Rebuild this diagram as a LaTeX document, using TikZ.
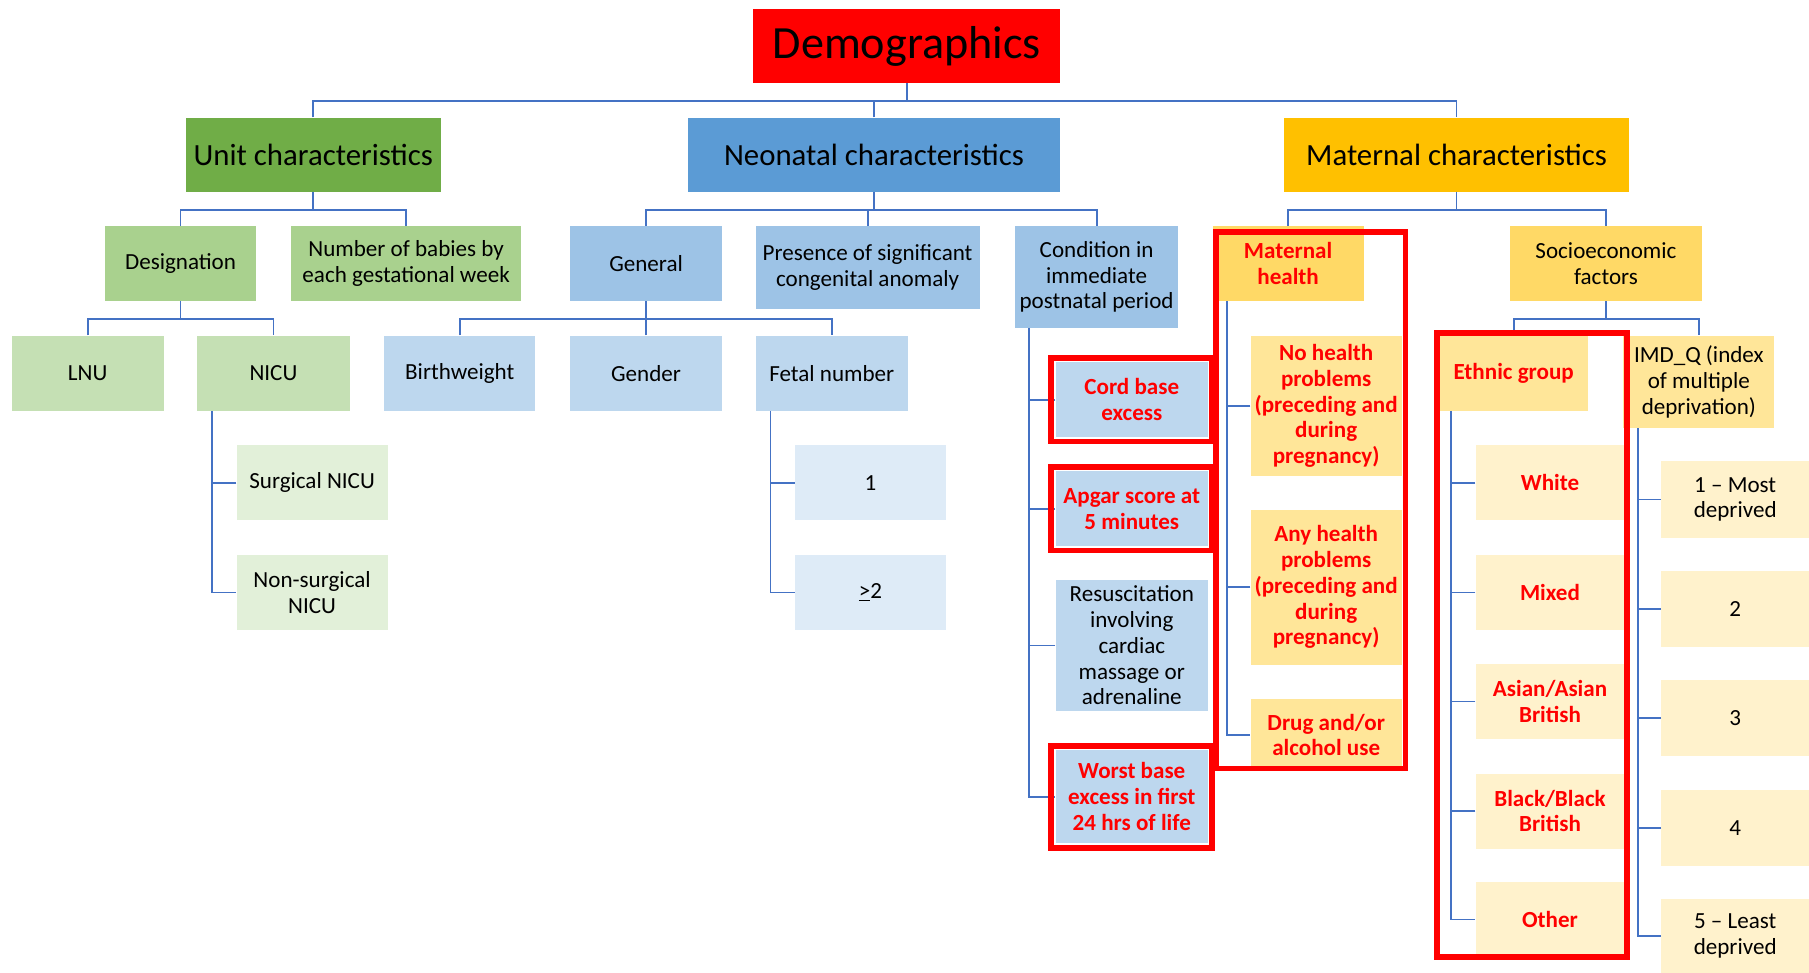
\documentclass[tikz,border=0pt]{standalone}
\usepackage{fontspec}
\setmainfont{Carlito}
\usetikzlibrary{calc,fit}

% palette
\definecolor{linkblue}{HTML}{4472C4}
\definecolor{titlered}{HTML}{FF0000}
\definecolor{unitgreen}{HTML}{70AD47}
\definecolor{neoblue}{HTML}{5B9BD5}
\definecolor{matgold}{HTML}{FFC000}
\definecolor{greenB}{HTML}{A9D18E}
\definecolor{blueB}{HTML}{9DC3E6}
\definecolor{goldB}{HTML}{FFD966}
\definecolor{greenC}{HTML}{C5E0B4}
\definecolor{blueC}{HTML}{BDD7EE}
\definecolor{goldC}{HTML}{FFE699}
\definecolor{greenD}{HTML}{E2F0D9}
\definecolor{blueD}{HTML}{DEEBF7}
\definecolor{goldD}{HTML}{FFF2CC}

\tikzset{
  box/.style={rectangle, inner sep=0pt, align=center, text=black,
              font=\fontsize{20}{22.3}\selectfont},
  sz/.style 2 args={minimum width=#1pt, minimum height=#2pt},
  head/.style={font=\fontsize{26.7}{32}\selectfont},
  hl/.style={text=red, font=\fontsize{20}{22.3}\selectfont\bfseries},
  wire/.style={draw=linkblue, line width=1.6pt},
  redframe/.style={draw=red, line width=5pt},
}

\begin{document}
\begin{tikzpicture}[x=1pt, y=-1pt]
\useasboundingbox (0,0) rectangle (1568,843);

% root
\node[box, sz={266}{64}, fill=titlered, font=\fontsize{40}{48}\selectfont] (title) at (786,40) {Demographics};

% main branches
\node[box, head, sz={221}{64}, fill=unitgreen] (unit) at (271.5,134) {Unit characteristics};
\node[box, head, sz={323}{64}, fill=neoblue]   (neo)  at (757.5,134) {Neonatal characteristics};
\node[box, head, sz={299}{64}, fill=matgold]   (mat)  at (1262.5,134) {Maternal characteristics};

% second level
\node[box, sz={131}{65}, fill=greenB] (desig)    at (156.5,228.5) {Designation};
\node[box, sz={200}{65}, fill=greenB] (nbabies)  at (352,228.5) {Number of babies by\\each gestational week};
\node[box, sz={132}{65}, fill=blueB]  (general)  at (560,228.5) {General};
\node[box, sz={194}{72}, fill=blueB]  (presence) at (752,232) {Presence of significant\\congenital anomaly};
\node[box, sz={141}{88}, fill=blueB]  (cond)     at (950.5,240) {Condition in\\immediate\\postnatal period};
\node[box, hl, sz={131}{65}, fill=goldB] (mhealth) at (1116.5,228.5) {Maternal\\health};
\node[box, sz={166}{65}, fill=goldB]  (socio)    at (1392,228.5) {Socioeconomic\\factors};

% third level
\node[box, sz={132}{65}, fill=greenC] (lnu)    at (76,323.5) {LNU};
\node[box, sz={132}{65}, fill=greenC] (nicu)   at (237,323.5) {NICU};
\node[box, sz={131}{65}, fill=blueC]  (bw)     at (398.5,323.5) {Birthweight};
\node[box, sz={132}{65}, fill=blueC]  (gender) at (560,323.5) {Gender};
\node[box, sz={132}{65}, fill=blueC]  (fetal)  at (721,323.5) {Fetal number};
\node[box, hl, sz={128}{65}, fill=goldC] (ethnic) at (1312,323.5) {Ethnic group};
\node[box, sz={131}{80}, fill=goldC]  (imd)    at (1472.5,331) {IMD\_Q (index\\of multiple\\deprivation)};

% unit designation
\node[box, sz={131}{65}, fill=greenD] (surg)  at (270.5,418.5) {Surgical NICU};
\node[box, sz={131}{65}, fill=greenD] (nsurg) at (270.5,513.5) {Non-surgical\\NICU};

% fetal number
\node[box, sz={131}{65}, fill=blueD] (one) at (754.5,418.5) {1};
\node[box, sz={131}{65}, fill=blueD] (two) at (754.5,513.5) {\underline{>}2};

% immediate postnatal period
\node[box, hl, sz={132}{65}, fill=blueC]  (cord)  at (981,346.5) {Cord base\\excess};
\node[box, hl, sz={132}{65}, fill=blueC]  (apgar) at (981,441) {Apgar score at\\5 minutes};
\node[box, sz={132}{113}, fill=blueC]     (resus) at (981,559.5) {Resuscitation\\involving\\cardiac\\massage or\\adrenaline};
\node[box, hl, sz={132}{81}, fill=blueC]  (worst) at (981,690.5) {Worst base\\excess in first\\24 hrs of life};

% maternal health
\node[box, hl, sz={131}{122}, fill=goldC] (nohp)  at (1149.5,352) {No health\\problems\\(preceding and\\during\\pregnancy)};
\node[box, hl, sz={131}{134}, fill=goldC] (anyhp) at (1149.5,509) {Any health\\problems\\(preceding and\\during\\pregnancy)};
\node[box, hl, sz={131}{62}, fill=goldC]  (drug)  at (1149.5,637) {Drug and/or\\alcohol use};

% ethnic groups
\node[box, hl, sz={129}{65}, fill=goldD] (white) at (1343.5,418.5) {White};
\node[box, hl, sz={129}{65}, fill=goldD] (mixed) at (1343.5,513.5) {Mixed};
\node[box, hl, sz={129}{65}, fill=goldD] (asian) at (1343.5,608) {Asian/Asian\\British};
\node[box, hl, sz={129}{65}, fill=goldD] (black) at (1343.5,703) {Black/Black\\British};
\node[box, hl, sz={129}{65}, fill=goldD] (other) at (1343.5,797) {Other};

% deprivation quintiles
\node[box, sz={128}{66}, fill=goldD] (imdA) at (1504,433) {1 – Most\\deprived};
\node[box, sz={128}{66}, fill=goldD] (imdB) at (1504,527.5) {2};
\node[box, sz={128}{66}, fill=goldD] (imdC) at (1504,622.5) {3};
\node[box, sz={128}{66}, fill=goldD] (imdD) at (1504,717.5) {4};
\node[box, sz={128}{64}, fill=goldD] (imdE) at (1504,811) {5 – Least\\deprived};

% tree buses
\draw[wire] (title.south) -- ++(0,15) coordinate (bus0);
\draw[wire] (unit.north) |- (bus0) -| (mat.north);
\draw[wire] (neo.north) -- (neo.north |- bus0);

\draw[wire] (unit.south) -- ++(0,16) coordinate (bus1);
\draw[wire] (desig.north) |- (bus1) -| (nbabies.north);

\draw[wire] (neo.south) -- ++(0,16) coordinate (bus2);
\draw[wire] (general.north) |- (bus2) -| (cond.north);
\draw[wire] (presence.north) -- (presence.north |- bus2);

\draw[wire] (mat.south) -- ++(0,16) coordinate (bus3);
\draw[wire] (mhealth.north) |- (bus3) -| (socio.north);

\draw[wire] (desig.south) -- ++(0,15) coordinate (bus4);
\draw[wire] (lnu.north) |- (bus4) -| (nicu.north);

\draw[wire] (general.south) -- ++(0,15) coordinate (bus5);
\draw[wire] (bw.north) |- (bus5) -| (fetal.north);
\draw[wire] (gender.north) -- (gender.north |- bus5);

\draw[wire] (socio.south) -- ++(0,15) coordinate (bus6);
\draw[wire] (ethnic.north) |- (bus6) -| (imd.north);

% side spines
\coordinate (nicuX) at ($(nicu.south west)+(13,0)$);
\draw[wire] (nicuX) |- (nsurg.west);
\draw[wire] (surg.west) -- (surg.west -| nicuX);

\coordinate (fetalX) at ($(fetal.south west)+(13,0)$);
\draw[wire] (fetalX) |- (two.west);
\draw[wire] (one.west) -- (one.west -| fetalX);

\coordinate (condX) at ($(cond.south west)+(12,0)$);
\draw[wire] (condX) |- (worst.west);
\foreach \n in {cord,apgar,resus} \draw[wire] (\n.west) -- (\n.west -| condX);

\coordinate (mhX) at ($(mhealth.south west)+(13,0)$);
\draw[wire] (mhX) |- (drug.west);
\foreach \n in {nohp,anyhp} \draw[wire] (\n.west) -- (\n.west -| mhX);

\coordinate (ethX) at ($(ethnic.south west)+(10,0)$);
\draw[wire] (ethX) |- (other.west);
\foreach \n in {white,mixed,asian,black} \draw[wire] (\n.west) -- (\n.west -| ethX);

\coordinate (imdX) at ($(imd.south west)+(13,0)$);
\draw[wire] (imdX) |- (imdE.west);
\foreach \n in {imdA,imdB,imdC,imdD} \draw[wire] (\n.west) -- (\n.west -| imdX);

% highlight frames
\node[redframe, fit=(cord), inner sep=3.5pt] (cordF) {};
\node[redframe, fit=(apgar), inner sep=3.5pt] (apgarF) {};
\node[redframe, fit=(worst), inner sep=3.5pt] (worstF) {};
\draw[redframe] ($(mhealth.north west)+(3,5)$) rectangle ($(drug.south east)+(3,-2)$);
\draw[redframe] ($(ethnic.north west)+(-2,-2)$) rectangle ($(other.south east)+(2,-0.5)$);
\end{tikzpicture}
\end{document}
